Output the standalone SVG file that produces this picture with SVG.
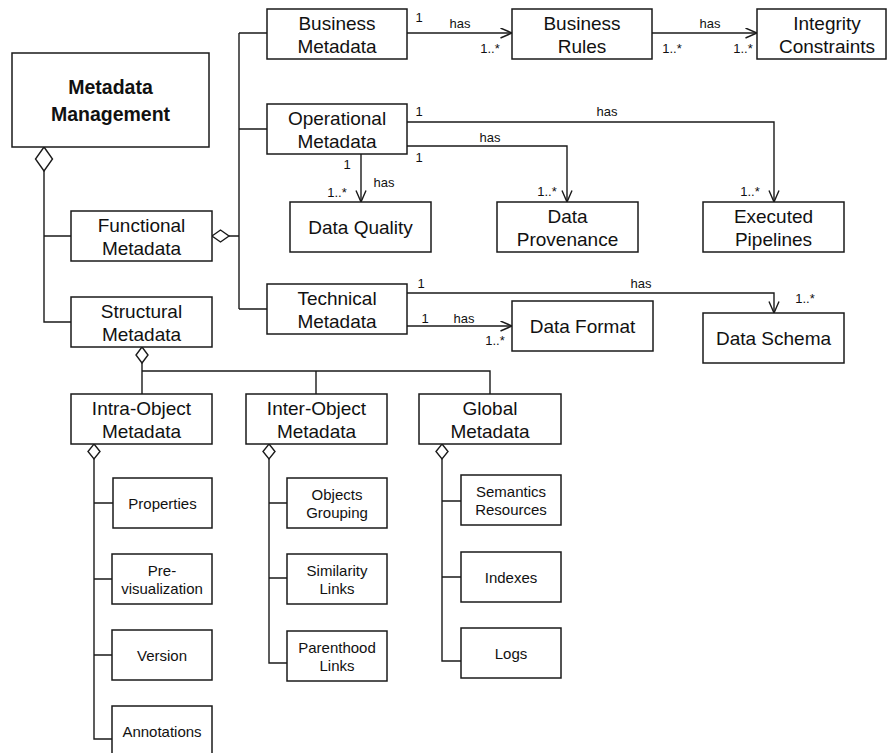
<svg xmlns="http://www.w3.org/2000/svg" width="887" height="753" viewBox="0 0 887 753">
<style>
rect.b{fill:#fff;stroke:#1a1a1a;stroke-width:1.5}
text{font-family:"Liberation Sans",Arial,Helvetica,sans-serif;fill:#111;text-anchor:middle}
.n{font-size:19px}
.s{font-size:15px}
.l{font-size:13px}
.t{font-size:19.5px;font-weight:bold}
#connectors path,#connectors line{fill:none;stroke:#1a1a1a;stroke-width:1.4}
#connectors polygon{fill:#fff;stroke:#1a1a1a;stroke-width:1.4}
</style>
<defs>
<marker id="arr" markerUnits="userSpaceOnUse" markerWidth="14" markerHeight="12" refX="12" refY="5.5" orient="auto" viewBox="0 0 14 12">
<path d="M0.5,0.5 L12,5.5 L0.5,10.5" fill="none" stroke="#1a1a1a" stroke-width="1.4"/>
</marker>
</defs>
<rect width="887" height="753" fill="#fff"/>

<g id="connectors">
<!-- Metadata Management aggregation -->
<polygon points="44,147 52.5,159 44,171 35.5,159"/>
<path d="M44,171 V322 H71 M44,236 H71"/>
<!-- Functional aggregation -->
<polygon points="212,236 220.5,230 229,236 220.5,242"/>
<path d="M229,236 H239 M239,33 V309 M239,33 H267 M239,129 H267 M239,309 H267"/>
<!-- Business -->
<path d="M407,33 H512" marker-end="url(#arr)"/>
<path d="M652,33 H757" marker-end="url(#arr)"/>
<!-- Operational -->
<path d="M407,122 H774 V202" marker-end="url(#arr)"/>
<path d="M407,146 H567 V202" marker-end="url(#arr)"/>
<path d="M361,154 V202" marker-end="url(#arr)"/>
<!-- Technical -->
<path d="M407,293 H774 V313" marker-end="url(#arr)"/>
<path d="M407,326 H512" marker-end="url(#arr)"/>
<!-- Structural aggregation -->
<polygon points="142,347 148,355 142,363 136,355"/>
<path d="M142,363 V394 M142,371 H490 V394 M316,371 V394"/>
<!-- Intra -->
<polygon points="94,444 100,451.5 94,459 88,451.5"/>
<path d="M94,459 V739 H112 M94,503 H113 M94,579 H112 M94,655 H112"/>
<!-- Inter -->
<polygon points="269,444 275,451.5 269,459 263,451.5"/>
<path d="M269,459 V663 H287 M269,503 H287 M269,578 H287"/>
<!-- Global -->
<polygon points="442,444 448,451.5 442,459 436,451.5"/>
<path d="M442,459 V661 H461 M442,501 H461 M442,577 H461"/>
</g>

<g id="labels">
<text class="l" x="419" y="22">1</text>
<text class="l" x="460" y="28">has</text>
<text class="l" x="490" y="53">1..*</text>
<text class="l" x="710" y="28">has</text>
<text class="l" x="672" y="53">1..*</text>
<text class="l" x="743" y="53">1..*</text>
<text class="l" x="419" y="116">1</text>
<text class="l" x="607" y="116">has</text>
<text class="l" x="490" y="142">has</text>
<text class="l" x="419" y="162">1</text>
<text class="l" x="347" y="169">1</text>
<text class="l" x="384" y="187">has</text>
<text class="l" x="337" y="197">1..*</text>
<text class="l" x="547" y="196">1..*</text>
<text class="l" x="750" y="196">1..*</text>
<text class="l" x="421" y="288">1</text>
<text class="l" x="641" y="288">has</text>
<text class="l" x="805" y="303">1..*</text>
<text class="l" x="425" y="323">1</text>
<text class="l" x="464" y="323">has</text>
<text class="l" x="495" y="345">1..*</text>
</g>

<g id="metadata-management"><rect class="b" x="12" y="53" width="197" height="94"/><text class="t" x="110.5" y="94">Metadata</text><text class="t" x="110.5" y="121">Management</text></g>
<g id="functional-metadata"><rect class="b" x="71" y="211" width="141" height="50"/><text class="n" x="141.5" y="232">Functional</text><text class="n" x="141.5" y="255">Metadata</text></g>
<g id="structural-metadata"><rect class="b" x="71" y="297" width="141" height="50"/><text class="n" x="141.5" y="318">Structural</text><text class="n" x="141.5" y="341">Metadata</text></g>
<g id="business-metadata"><rect class="b" x="267" y="9" width="140" height="50"/><text class="n" x="337" y="30">Business</text><text class="n" x="337" y="53">Metadata</text></g>
<g id="business-rules"><rect class="b" x="512" y="9" width="140" height="50"/><text class="n" x="582" y="30">Business</text><text class="n" x="582" y="53">Rules</text></g>
<g id="integrity-constraints"><rect class="b" x="757" y="9" width="129" height="50"/><text class="n" x="827" y="30">Integrity</text><text class="n" x="827" y="53">Constraints</text></g>
<g id="operational-metadata"><rect class="b" x="267" y="104" width="140" height="50"/><text class="n" x="337" y="125">Operational</text><text class="n" x="337" y="148">Metadata</text></g>
<g id="data-quality"><rect class="b" x="290" y="202" width="141" height="50"/><text class="n" x="360.5" y="234">Data Quality</text></g>
<g id="data-provenance"><rect class="b" x="497" y="202" width="141" height="50"/><text class="n" x="567.5" y="223">Data</text><text class="n" x="567.5" y="246">Provenance</text></g>
<g id="executed-pipelines"><rect class="b" x="703" y="202" width="141" height="50"/><text class="n" x="773.5" y="223">Executed</text><text class="n" x="773.5" y="246">Pipelines</text></g>
<g id="technical-metadata"><rect class="b" x="267" y="284" width="140" height="50"/><text class="n" x="337" y="305">Technical</text><text class="n" x="337" y="328">Metadata</text></g>
<g id="data-format"><rect class="b" x="512" y="301" width="141" height="50"/><text class="n" x="582.5" y="333">Data Format</text></g>
<g id="data-schema"><rect class="b" x="703" y="313" width="141" height="50"/><text class="n" x="773.5" y="345">Data Schema</text></g>
<g id="intra-object-metadata"><rect class="b" x="71" y="394" width="141" height="50"/><text class="n" x="141.5" y="415">Intra-Object</text><text class="n" x="141.5" y="438">Metadata</text></g>
<g id="inter-object-metadata"><rect class="b" x="246" y="394" width="141" height="50"/><text class="n" x="316.5" y="415">Inter-Object</text><text class="n" x="316.5" y="438">Metadata</text></g>
<g id="global-metadata"><rect class="b" x="419" y="394" width="142" height="50"/><text class="n" x="490" y="415">Global</text><text class="n" x="490" y="438">Metadata</text></g>
<g id="properties"><rect class="b" x="113" y="478" width="99" height="50"/><text class="s" x="162.5" y="508.5">Properties</text></g>
<g id="pre-visualization"><rect class="b" x="112" y="554" width="100" height="50"/><text class="s" x="162" y="576">Pre-</text><text class="s" x="162" y="594">visualization</text></g>
<g id="version"><rect class="b" x="112" y="630" width="100" height="50"/><text class="s" x="162" y="660.5">Version</text></g>
<g id="annotations"><rect class="b" x="112" y="706" width="100" height="50"/><text class="s" x="162" y="736.5">Annotations</text></g>
<g id="objects-grouping"><rect class="b" x="287" y="478" width="100" height="50"/><text class="s" x="337" y="499.5">Objects</text><text class="s" x="337" y="517.5">Grouping</text></g>
<g id="similarity-links"><rect class="b" x="287" y="554" width="100" height="50"/><text class="s" x="337" y="575.5">Similarity</text><text class="s" x="337" y="593.5">Links</text></g>
<g id="parenthood-links"><rect class="b" x="287" y="631" width="100" height="50"/><text class="s" x="337" y="652.5">Parenthood</text><text class="s" x="337" y="670.5">Links</text></g>
<g id="semantics-resources"><rect class="b" x="461" y="475" width="100" height="50"/><text class="s" x="511" y="496.5">Semantics</text><text class="s" x="511" y="514.5">Resources</text></g>
<g id="indexes"><rect class="b" x="461" y="552" width="100" height="50"/><text class="s" x="511" y="582.5">Indexes</text></g>
<g id="logs"><rect class="b" x="461" y="628" width="100" height="50"/><text class="s" x="511" y="658.5">Logs</text></g>
</svg>
